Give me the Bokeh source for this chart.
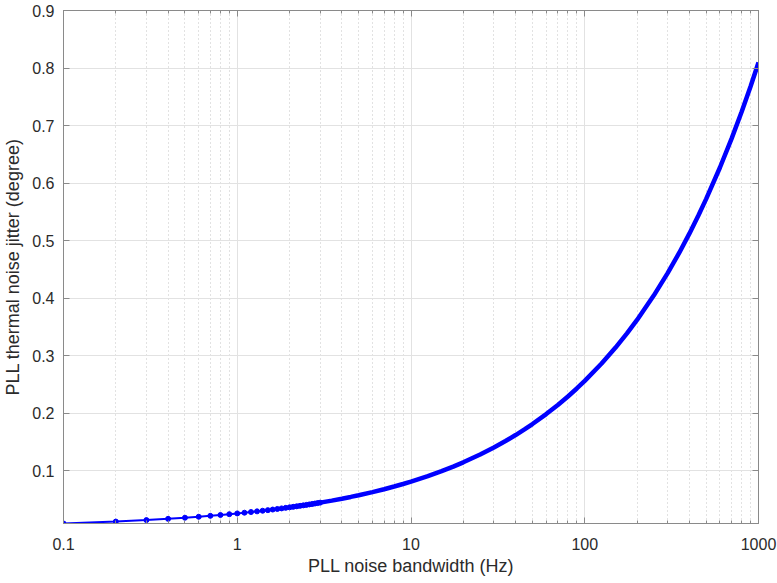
from bokeh.plotting import figure
from bokeh.models import LogAxis, LinearAxis, FixedTicker, LogTicker, Range1d
from bokeh.embed import file_html
from bokeh.resources import INLINE

# PLL noise bandwidth (Hz), sampled every 0.1 Hz at the low end
bw_fine = [0.1, 0.2, 0.3, 0.4, 0.5, 0.6, 0.7, 0.8, 0.9, 1.0,
           1.1, 1.2, 1.3, 1.4, 1.5, 1.6, 1.7, 1.8, 1.9, 2.0,
           2.1, 2.2, 2.3, 2.4, 2.5, 2.6, 2.7, 2.8, 2.9, 3.0]
jitter_fine = [0.00810, 0.01145, 0.01402, 0.01619, 0.01810, 0.01983, 0.02142, 0.02290, 0.02429, 0.02560,
               0.02685, 0.02804, 0.02919, 0.03029, 0.03135, 0.03238, 0.03338, 0.03435, 0.03529, 0.03620,
               0.03710, 0.03797, 0.03883, 0.03966, 0.04048, 0.04128, 0.04207, 0.04284, 0.04359, 0.04434]

# remaining bandwidths up to 1 kHz and the thermal noise jitter (degree)
bw_coarse = [3.5, 4, 4.5, 5, 6, 7, 8, 9, 10,
             12.5, 15, 17.5, 20, 25, 30, 35, 40, 45, 50, 60, 70, 80, 90, 100,
             125, 150, 175, 200, 250, 300, 350, 400, 450, 500, 600, 700, 800, 900, 1000]
jitter_coarse = [0.04789, 0.05120, 0.05431, 0.05724, 0.06271, 0.06773, 0.07241, 0.07680, 0.08095,
                 0.09051, 0.09915, 0.10709, 0.11449, 0.12800, 0.14022, 0.15145, 0.16191, 0.17173, 0.18102,
                 0.19830, 0.21418, 0.22897, 0.24286, 0.25600,
                 0.28622, 0.31353, 0.33866, 0.36204, 0.40477, 0.44340, 0.47893, 0.51200, 0.54306, 0.57243,
                 0.62707, 0.67731, 0.72408, 0.76800, 0.80954]

y_ticks = [0.1, 0.2, 0.3, 0.4, 0.5, 0.6, 0.7, 0.8, 0.9]

bw_all = bw_fine + bw_coarse
jitter_all = jitter_fine + jitter_coarse

FONT = "Liberation Sans"
TEXT = "#2b2b2b"
AXIS = "#8a8a8a"

p = figure(width=777, height=583, x_axis_type="log",
           x_range=Range1d(0.1, 1000), y_range=Range1d(0.0081, 0.9),
           output_backend="svg", toolbar_location=None,
           min_border_left=62, min_border_right=19, min_border_top=10, min_border_bottom=60)
p.background_fill_color = "white"
p.border_fill_color = "white"
p.outline_line_color = AXIS
p.outline_line_width = 1

# grids: solid majors, dotted minors on the log axis
p.xgrid.grid_line_color = "#e2e2e2"
p.xgrid.minor_grid_line_color = "#c4c4c4"
p.xgrid.minor_grid_line_dash = "1 3"
p.ygrid.grid_line_color = "#e2e2e2"
p.ygrid.ticker = FixedTicker(ticks=y_ticks)

def style(ax, labels=True):
    ax.axis_line_color = AXIS
    ax.major_tick_line_color = AXIS
    ax.minor_tick_line_color = AXIS
    ax.major_tick_in = 6
    ax.major_tick_out = 0
    ax.minor_tick_in = 3
    ax.minor_tick_out = 0
    ax.major_label_text_font = FONT
    ax.major_label_text_color = TEXT
    ax.axis_label_text_font = FONT
    ax.axis_label_text_color = TEXT
    ax.axis_label_text_font_style = "normal"
    ax.axis_label_text_font_size = "18px"
    if labels:
        ax.major_label_text_font_size = "16px"
    else:
        ax.major_label_text_font_size = "1px"
        ax.major_label_text_color = None
        ax.major_label_standoff = 0

xa = p.xaxis[0]
xa.ticker = LogTicker(num_minor_ticks=10)
xa.axis_label = "PLL noise bandwidth (Hz)"
xa.major_label_overrides = {0.1: "0.1", 1: "1", 10: "10", 100: "100", 1000: "1000"}
xa.major_label_standoff = 14
xa.axis_label_standoff = 3
style(xa)

ya = p.yaxis[0]
ya.ticker = FixedTicker(ticks=y_ticks)
ya.axis_label = "PLL thermal noise jitter (degree)"
ya.major_label_standoff = 9
ya.axis_label_standoff = 6
style(ya)
ya.minor_tick_line_color = None

top = LogAxis(ticker=LogTicker(num_minor_ticks=10))
style(top, labels=False)
p.add_layout(top, "above")

right = LinearAxis(ticker=FixedTicker(ticks=y_ticks))
style(right, labels=False)
right.minor_tick_line_color = None
p.add_layout(right, "right")

# thin connecting line, dense sample markers, and the merged thick trace
p.line(bw_all, jitter_all, line_color="#0000ff", line_width=2)
p.scatter(bw_fine, jitter_fine, size=5, fill_color="#0000ff", line_color="#0000ff")
p.line(bw_fine[19:] + bw_coarse, jitter_fine[19:] + jitter_coarse, line_color="#0000ff", line_width=4.5)

open("out.html", "w").write(file_html(p, INLINE))
